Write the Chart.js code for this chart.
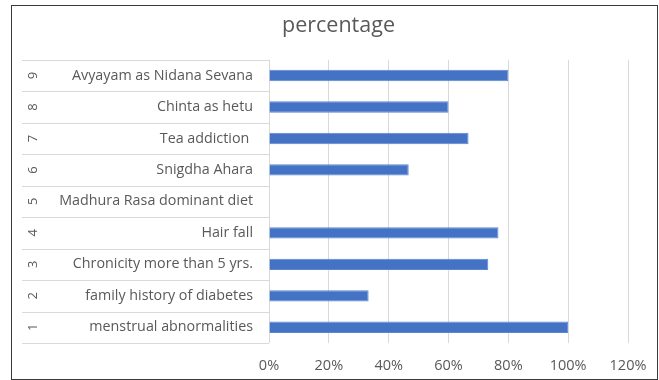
<!DOCTYPE html>
<html>
<head>
<meta charset="utf-8">
<script src="https://cdn.jsdelivr.net/npm/chart.js@4"></script>
<style>
  html, body { margin: 0; padding: 0; background: #ffffff; }
  #box { position: absolute; left: 11px; top: 5px; width: 645px; height: 373px; border: 1px solid #3a3a3a; background: #fff; }
  canvas { display: block; }
</style>
</head>
<body>
<div id="box"><canvas id="c" width="645" height="373"></canvas></div>
<script>
const categoryNumbers = ["9", "8", "7", "6", "5", "4", "3", "2", "1"];
const categoryLabels = [
  "Avyayam as Nidana Sevana",
  "Chinta as hetu",
  "Tea addiction ",
  "Snigdha Ahara",
  "Madhura Rasa dominant diet",
  "Hair fall",
  "Chronicity more than 5 yrs.",
  "family history of diabetes",
  "menstrual abnormalities"
];
const percentValues = [0.80, 0.60, 0.667, 0.467, 0, 0.767, 0.733, 0.333, 1.00];
const xTickMax = 1.2;
const chartTitle = "percentage";

const FONT = "'Open Sans', 'Noto Sans', sans-serif";
const TEXT = "#595959";

const multiLevel = {
  id: 'multiLevel',
  afterDraw(chart) {
    const ctx = chart.ctx;
    const y = chart.scales.y;
    const area = chart.chartArea;
    const n = categoryLabels.length;
    const step = (area.bottom - area.top) / n;
    ctx.save();
    ctx.strokeStyle = "#d9d9d9";
    ctx.lineWidth = 1;
    for (let i = 0; i <= n; i++) {
      const yy = Math.round(y.getPixelForValue(i) - step / 2) + 0.5;
      ctx.beginPath();
      ctx.moveTo(10, yy);
      ctx.lineTo(area.left, yy);
      ctx.stroke();
    }
    ctx.fillStyle = TEXT;
    ctx.font = "13px " + FONT;
    ctx.textAlign = "center";
    ctx.textBaseline = "middle";
    for (let i = 0; i < n; i++) {
      const yy = y.getPixelForValue(i);
      ctx.save();
      ctx.translate(21, yy);
      ctx.rotate(-Math.PI / 2);
      ctx.fillText(categoryNumbers[i], 0, 0);
      ctx.restore();
    }
    ctx.restore();
  }
};

new Chart(document.getElementById('c'), {
  type: 'bar',
  data: {
    labels: categoryLabels,
    datasets: [{
      data: percentValues,
      backgroundColor: "#4472C4",
      borderColor: "#5b86d0",
      borderWidth: 1,
      barPercentage: 0.36,
      categoryPercentage: 1.0
    }]
  },
  options: {
    indexAxis: 'y',
    responsive: false,
    animation: false,
    layout: { padding: { left: 37, right: 29, top: 0, bottom: 0 } },
    plugins: {
      legend: { display: false },
      tooltip: { enabled: false },
      title: {
        display: true,
        text: chartTitle,
        color: TEXT,
        font: { family: FONT, size: 21.5, weight: 'normal' },
        padding: { top: 7, bottom: 21 }
      }
    },
    scales: {
      x: {
        min: 0,
        max: xTickMax,
        ticks: {
          stepSize: 0.2,
          color: TEXT,
          font: { family: FONT, size: 14.5 },
          padding: 14,
          callback: v => Math.round(v * 100) + "%"
        },
        grid: { color: "#d9d9d9", drawTicks: false },
        border: { display: false },
        afterFit: s => { s.height = 36; s.paddingRight = 0; s.paddingLeft = 0; }
      },
      y: {
        ticks: {
          color: TEXT,
          font: { family: FONT, size: 14.3 },
          padding: 16,
          autoSkip: false
        },
        grid: { display: false, drawTicks: false },
        border: { display: false },
        afterFit: s => { s.width = 220; s.paddingTop = 0; s.paddingBottom = 0; }
      }
    }
  },
  plugins: [multiLevel]
});
</script>
</body>
</html>
